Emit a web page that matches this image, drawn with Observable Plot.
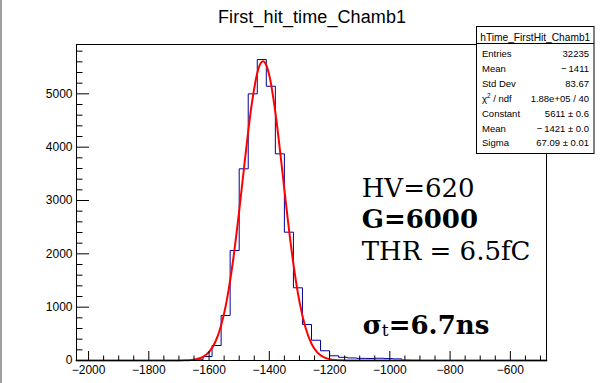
<!DOCTYPE html>
<html><head><meta charset="utf-8">
<script src="https://cdn.jsdelivr.net/npm/d3@7"></script>
<script src="https://cdn.jsdelivr.net/npm/@observablehq/plot@0.6"></script>
<style>
body{margin:0;background:#fff}
#wrap{position:relative;width:611px;height:383px;overflow:hidden;background:#fff}
#wrap svg{display:block}
#overlay{position:absolute;left:0;top:0;pointer-events:none}
#edge{position:absolute;left:0;top:0;width:2px;height:383px;background:#a0a0a0}
</style>
</head><body>
<div id="wrap"></div>
<script>
// ---- data ----
const binStart = -2040;
const binWidth = 30;
const counts = [
  0,0,0,0,0,0,0,0,0,0,0,0,
  2,13,75,281,844,2062,3594,5000,5643,5142,3875,2406,1363,675,380,182,88,60,48,40,38,42,36,30,6,3,
  0,0,0,0,0,0,0,0,0,0,0,0,0,0
];
// fitted gaussian (Constant 5611, Mean -1421, Sigma 67.09)
const fitX = [-2040,-1720,-1700,-1680,-1660,-1640,-1620,-1600,-1580,-1560,-1540,-1520,-1500,-1480,-1460,-1440,-1430,-1421,-1410,-1400,-1380,-1360,-1340,-1320,-1300,-1280,-1260,-1240,-1220,-1200,-1180,-1160,-1140,-1120,-480];
const fitY = [0,0.3,1.0,3.3,9.9,27,69,160,338,656,1164,1889,2805,3812,4739,5391,5561,5611,5536,5343,4656,3712,2707,1807,1103,617,315,147,63,25,8.9,2.9,0.9,0.2,0];
const xTickLabels = [-2000,-1800,-1600,-1400,-1200,-1000,-800,-600];
const yTickLabels = [0,1000,2000,3000,4000,5000];
const statsRows = [
  ["Entries","32235"],
  ["Mean","\u2212\u20091411"],
  ["Std Dev","83.67"],
  ["CHI","1.88e+05 / 40"],
  ["Constant","5611 \u00b1 0.6"],
  ["Mean","\u2212\u20091421 \u00b1 0.0"],
  ["Sigma","67.09 \u00b1 0.01"]
];

// ---- derived tables ----
const histPts = counts.map((c,i)=>({x: binStart + i*binWidth, y: c}));
histPts.push({x: binStart + counts.length*binWidth, y: counts[counts.length-1]});
const fitPts = fitX.map((x,i)=>({x, y: fitY[i]}));
const xMinor = d3.range(-2000, -480, 50).filter(v => v % 200 !== 0);
const yMinor = d3.range(0, 5925, 200).filter(v => v % 1000 !== 0);

const W = 611, H = 383, mL = 76, mR = 65, mT = 44, mB = 23;
const fw = W - mL - mR, fh = H - mT - mB;
const fmt = d => d < 0 ? "\u2212" + Math.abs(d) : String(d);

const chart = Plot.plot({
  width: W, height: H,
  marginLeft: mL, marginRight: mR, marginTop: mT, marginBottom: mB,
  style: {fontFamily: "Liberation Sans, Arial, sans-serif", fontSize: "12px", color: "black", background: "white"},
  x: {domain: [-2040, -480], ticks: xTickLabels, tickSize: 0, tickPadding: 5, tickFormat: fmt, label: null},
  y: {domain: [0, 5925], ticks: yTickLabels, tickSize: 0, tickPadding: 4, tickFormat: fmt, label: null},
  marks: [
    Plot.lineY(histPts, {x: "x", y: "y", curve: "step-after", stroke: "#000099", strokeWidth: 1}),
    Plot.line(fitPts, {x: "x", y: "y", curve: "monotone-x", stroke: "#ff0000", strokeWidth: 2}),
    Plot.ruleX(xTickLabels, {x: d => d, insetTop: fh - 9, stroke: "black"}),
    Plot.ruleX(xMinor, {x: d => d, insetTop: fh - 4.5, stroke: "black"}),
    Plot.ruleY(yTickLabels, {y: d => d, insetRight: fw - 13, stroke: "black"}),
    Plot.ruleY(yMinor, {y: d => d, insetRight: fw - 6.5, stroke: "black"}),
    Plot.frame({stroke: "black"})
  ]
});
const wrap = document.getElementById("wrap");
wrap.appendChild(chart);

// ---- overlay: title, stats box, annotations ----
const bx = 476.5, by = 26.5, bw = 117.5, bh = 127;
const rowY = [56.5, 71.5, 86.5, 101.5, 117, 131.5, 146];
let rows = "";
statsRows.forEach((r,i)=>{
  const lab = r[0] === "CHI"
    ? `\u03c7<tspan font-size="6.5" dy="-3.5">2</tspan><tspan dy="3.5"> / ndf</tspan>`
    : r[0];
  rows += `<text x="482" y="${rowY[i]}" font-size="9.5">${lab}</text>`;
  rows += `<text x="589" y="${rowY[i]}" font-size="9.5" text-anchor="end">${r[1]}</text>`;
});
const ov = `
<svg id="overlay" width="${W}" height="${H}" xmlns="http://www.w3.org/2000/svg">
  <text x="312" y="23" text-anchor="middle" font-family="Liberation Sans, Arial, sans-serif" font-size="18" textLength="188" lengthAdjust="spacing">First_hit_time_Chamb1</text>
  <g font-family="Liberation Sans, Arial, sans-serif" fill="black">
    <rect x="${bx}" y="${by}" width="${bw}" height="${bh}" fill="white" stroke="black" stroke-width="1"/>
    <line x1="${bx}" x2="${bx+bw}" y1="43.5" y2="43.5" stroke="black"/>
    <text x="${bx+bw/2}" y="41" text-anchor="middle" font-size="10.2">hTime_FirstHit_Chamb1</text>
    ${rows}
  </g>
  <g font-family="DejaVu Serif, serif" font-size="26" fill="black">
    <text x="361.7" y="196.7">HV=620</text>
    <text x="361.7" y="228.3" font-weight="bold">G=6000</text>
    <text x="361.7" y="260">THR = 6.5fC</text>
    <text x="362.7" y="334" font-weight="bold">\u03c3<tspan font-size="17" font-weight="normal" dy="2">t</tspan><tspan dy="-2">=6.7ns</tspan></text>
  </g>
</svg>`;
wrap.insertAdjacentHTML("beforeend", ov);
const edge = document.createElement("div");
edge.id = "edge";
wrap.appendChild(edge);
</script>
</body></html>
